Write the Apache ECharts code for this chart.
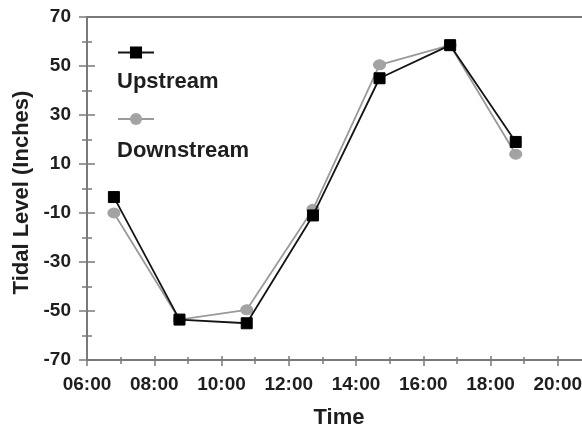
<!DOCTYPE html>
<html>
<head>
<meta charset="utf-8">
<script src="https://cdn.jsdelivr.net/npm/echarts@6/dist/echarts.min.js"></script>
<style>
html,body{margin:0;padding:0;background:#fff;}
#chart{width:582px;height:425px;}
</style>
</head>
<body>
<div id="chart"></div>
<script>
// Data (time in decimal hours)
var timeHours = [6.8, 8.75, 10.75, 12.72, 14.7, 16.8, 18.75];
var upstream = [-3.5, -53.5, -55, -11, 45, 58.5, 19];
var downstream = [-10, -53.5, -49.5, -8.5, 50.5, 58.5, 14];
var seriesNames = ['Upstream', 'Downstream'];
var xTitle = 'Time';
var yTitle = 'Tidal Level (Inches)';

function pairs(xs, ys) { return xs.map(function (x, i) { return [x, ys[i]]; }); }
function fmtTime(v) { var h = Math.round(v); return (h < 10 ? '0' : '') + h + ':00'; }

var FONT = '"Liberation Sans", Arial, sans-serif';
var TXT = '#1e1e1e';
var AX = '#7a7a7a';

var chart = echarts.init(document.getElementById('chart'), null, {renderer: 'canvas'});

var gridTop = 17, gridBottom = 65;
var plotH = 425 - gridTop - gridBottom;
var labelStyle = {fontFamily: FONT, fontWeight: 'bold', fontSize: 19, color: TXT};

var option = {
  animation: false,
  backgroundColor: '#fff',
  grid: {left: 87, top: gridTop, right: -43, bottom: gridBottom, outerBoundsMode: 'none', containLabel: false,
         show: true, borderColor: AX, borderWidth: 2, backgroundColor: 'transparent'},
  legend: {
    orient: 'vertical',
    left: 117,
    top: 45,
    padding: 0,
    itemWidth: 36,
    itemHeight: 15,
    itemGap: 53,
    formatter: function () { return ''; },
    textStyle: {fontSize: 1},
    data: seriesNames
  },
  graphic: seriesNames.map(function (n, i) {
    return {
      type: 'text', left: 117, top: 71 + i * 69,
      style: {text: n, font: 'bold 22px ' + FONT, fill: TXT}
    };
  }),
  xAxis: [{
    type: 'value', min: 6, max: 22, interval: 2, position: 'bottom',
    name: xTitle, nameLocation: 'middle', nameGap: 47,
    nameTextStyle: {fontFamily: FONT, fontWeight: 'bold', fontSize: 22, color: TXT, padding: [0, 34, 0, 0]},
    axisLine: {show: true, onZero: false, lineStyle: {color: AX, width: 2}},
    axisTick: {show: true, inside: false, length: 6, lineStyle: {color: AX, width: 1.5}},
    minorTick: {show: true, splitNumber: 2, length: 4, lineStyle: {color: AX, width: 1.5}},
    splitLine: {show: false},
    axisLabel: Object.assign({margin: 15, formatter: fmtTime}, labelStyle)
  }, {
    type: 'value', min: 6, max: 22, interval: 2, position: 'top', offset: -plotH,
    axisLine: {show: false, onZero: false},
    axisTick: {show: true, inside: false, length: 4, lineStyle: {color: AX, width: 1.5}},
    minorTick: {show: true, splitNumber: 2, length: 3, lineStyle: {color: AX, width: 1.5}},
    splitLine: {show: false}, axisLabel: {show: false}
  }],
  yAxis: [{
    type: 'value', min: -70, max: 70, interval: 20, position: 'left',
    name: yTitle, nameLocation: 'middle', nameGap: 50, nameRotate: 90,
    nameTextStyle: {fontFamily: FONT, fontWeight: 'bold', fontSize: 22, color: TXT, padding: [0, 8, 0, 0]},
    axisLine: {show: true, onZero: false, lineStyle: {color: AX, width: 2}},
    axisTick: {show: true, inside: false, length: 8, lineStyle: {color: AX, width: 1.5}},
    minorTick: {show: true, splitNumber: 2, length: 5, lineStyle: {color: AX, width: 1.5}},
    splitLine: {show: false},
    axisLabel: Object.assign({margin: 16}, labelStyle)
  }, {
    type: 'value', min: -70, max: 70, interval: 20, position: 'right', offset: -(582 + 43 - 87),
    axisLine: {show: false, onZero: false},
    axisTick: {show: true, inside: false, length: 8, lineStyle: {color: AX, width: 1.5}},
    minorTick: {show: true, splitNumber: 2, length: 5, lineStyle: {color: AX, width: 1.5}},
    splitLine: {show: false}, axisLabel: {show: false}
  }],
  series: [{
    name: seriesNames[0], type: 'line', xAxisIndex: 0, yAxisIndex: 0,
    data: pairs(timeHours, upstream),
    symbol: 'rect', symbolSize: 11,
    lineStyle: {color: '#141414', width: 1.8},
    itemStyle: {color: '#000', borderColor: '#000'},
    z: 3
  }, {
    name: seriesNames[1], type: 'line', xAxisIndex: 0, yAxisIndex: 0,
    data: pairs(timeHours, downstream),
    symbol: 'circle', symbolSize: [12, 10],
    lineStyle: {color: '#9a9a9a', width: 1.8},
    itemStyle: {color: '#a3a3a3', borderColor: '#a3a3a3'},
    z: 2
  }]
};
chart.setOption(option);
</script>
</body>
</html>
